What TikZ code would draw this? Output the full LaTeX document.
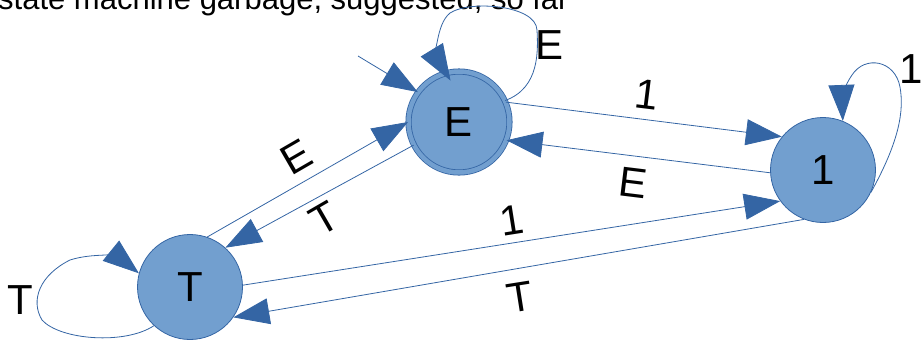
\documentclass[tikz,border=0pt]{standalone}
\usepackage{fontspec}
\setmainfont{Liberation Sans}
\usetikzlibrary{arrows.meta}
\definecolor{stfill}{HTML}{729FCF}
\definecolor{stline}{HTML}{3465A4}
\begin{document}
\begin{tikzpicture}[x=1pt,y=-1pt,
  state/.style={circle, draw=stline, fill=stfill, line width=0.8pt,
    minimum size=105pt, inner sep=0pt, font=\fontsize{42}{42}\selectfont},
  accepting/.style={double=stfill, double distance=4.5pt, minimum size=101pt},
  trans/.style={draw=stline, line width=0.8pt, -{Triangle[length=36pt,width=26pt]}},
  lbl/.style={font=\fontsize{42}{42}\selectfont, inner sep=0pt}]
\useasboundingbox (0,0) rectangle (921,349);
\clip (0,0) rectangle (921,349);

% heading line, mostly above the frame
\node[anchor=base west, inner sep=0pt, font=\fontsize{31}{31}\selectfont] (heading) at (-2,9)
  {state machine garbage, suggested, so far};

% states
\node[state, accepting] (E) at (459,122) {E};
\node[state] (One) at (823,170) {1};
\node[state] (T) at (190,287) {T};

% start arrow
\coordinate (init) at (358,56);
\draw[trans] (init) -- (E.144);

% self loops
\draw[trans, shorten >=-9pt] (E.25) .. controls (540,88) and (538,50) .. (537,30)
  .. controls (536,5) and (470,0) .. (450,13) .. controls (435,25) and (438,60) .. (E.105);
\draw[trans] (T.227) .. controls (125,345) and (60,340) .. (42,320)
  .. controls (30,300) and (40,275) .. (70,260) .. controls (95,252) and (120,258) .. (T.165);
\draw[trans] (One.-25) .. controls (900,140) and (904,110) .. (900,87)
  .. controls (895,60) and (865,55) .. (852,75) .. controls (843,88) and (842,100) .. (One.68);

% transitions between states
\draw[trans] (E.23) -- (One.141);
\draw[trans] (One.183) -- (E.-21);
\draw[trans] (T.2) -- (One.216);
\draw[trans] (One.249) -- (T.-35);
\draw[trans] (T.71) -- (E.180);
\draw[trans] (E.207) -- (T.48);

% transition labels
\node[lbl] (lEE) at (550,45) {E};
\node[lbl] (lTT) at (20,300) {T};
\node[lbl] (l11) at (911,69) {1};
\node[lbl, rotate=-7] (lE1) at (647,95) {1};
\node[lbl, rotate=-7] (l1E) at (633,183) {E};
\node[lbl, rotate=9] (lT1) at (512,220) {1};
\node[lbl, rotate=9] (l1T) at (520,297) {T};
\node[lbl, rotate=30] (lTE) at (296,157) {E};
\node[lbl, rotate=30] (lET) at (324,219) {T};
\end{tikzpicture}
\end{document}
